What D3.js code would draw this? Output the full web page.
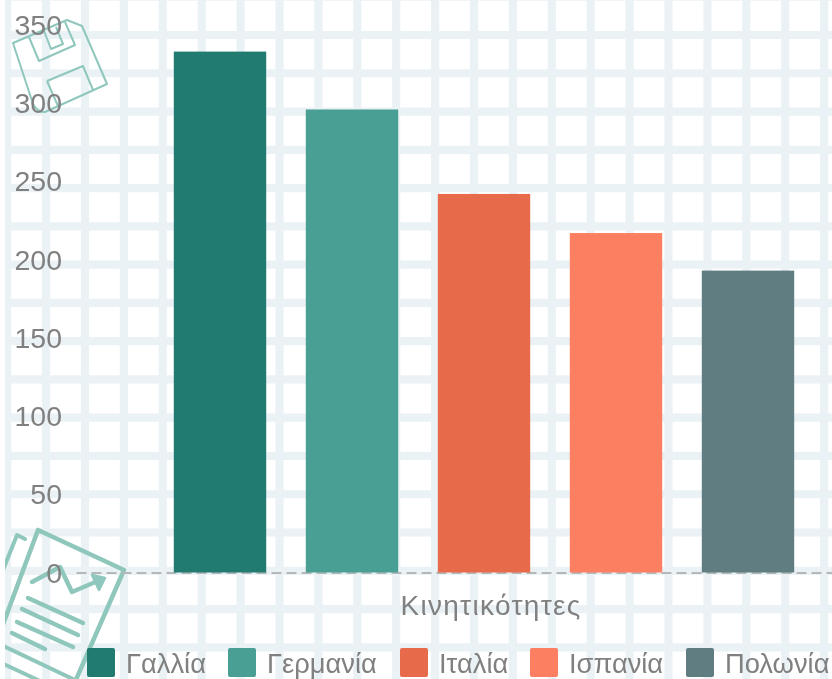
<!DOCTYPE html>
<html><head><meta charset="utf-8">
<script src="https://d3js.org/d3.v7.min.js"></script>
<style>html,body{margin:0;padding:0;background:#fff;overflow:hidden}svg{display:block;filter:blur(0.5px)}text{font-family:"Liberation Sans",Arial,sans-serif;fill:#808080}</style>
</head><body><svg id="c" width="832" height="679"></svg>
<script>
const categories=["Γαλλία","Γερμανία","Ιταλία","Ισπανία","Πολωνία"];
const values=[333,296,242,217,193];
const colors=["#227b70","#4a9f95","#e76b4b","#fc7f62","#607e82"];
const yTicks=[0,50,100,150,200,250,300,350];
const axisTitle="Κινητικότητες";
const svg=d3.select("#c");
const W=832,H=679;
svg.append("defs").append("clipPath").attr("id","bg").append("rect").attr("x",5).attr("y",0).attr("width",W-5).attr("height",H);
const bg=svg.append("g").attr("clip-path","url(#bg)");
const vLines=d3.range(0,22).map(i=>7.2+38.9*i);
const hLines=d3.range(-1,18).map(i=>35+38.27*i);
bg.selectAll("line.v").data(vLines).join("line").attr("x1",d=>d).attr("x2",d=>d).attr("y1",0).attr("y2",H).attr("stroke","#ebf2f6").attr("stroke-width",8.2);
bg.selectAll("line.h").data(hLines).join("line").attr("y1",d=>d).attr("y2",d=>d).attr("x1",0).attr("x2",W).attr("stroke","#ebf2f6").attr("stroke-width",8.2);
const ic="#8fc7bd";
const fl=bg.append("g").attr("fill","none").attr("stroke",ic).attr("stroke-width",2).attr("stroke-linejoin","round");
fl.append("path").attr("d","M13,43 L67,20 L82,26 L107,84 L45,112 Q38,113 33,104 Z");
fl.append("path").attr("d","M29,37 L39,61 L75,45 L65,22");
fl.append("path").attr("d","M44,31 L51,49 L63,44 L56,27");
fl.append("path").attr("d","M47,81 L83,66 L93,90 M47,81 L58,106");
const rp=bg.append("g").attr("fill","none").attr("stroke",ic).attr("stroke-linecap","round").attr("stroke-linejoin","round");
rp.append("path").attr("d","M38,530 L124,570 L75,682 M38,530 L-5,646").attr("stroke-width",4.5);
rp.append("path").attr("d","M25,539 L17,535 L-5,590").attr("stroke-width",4);
rp.append("path").attr("d","M-5,642 L75,680 M-5,660 L40,681").attr("stroke-width",4);
rp.append("path").attr("d","M32,582 L60,567 L72,592 L100,580").attr("stroke-width",4.5);
rp.append("path").attr("d","M92,575 L105,578 L99,590 Z").attr("fill",ic).attr("stroke-width",2.5);
[[28,598,83,623],[22,609,78,635],[17,622,73,647],[12,633,45,649]].forEach(l=>rp.append("line").attr("x1",l[0]).attr("y1",l[1]).attr("x2",l[2]).attr("y2",l[3]).attr("stroke-width",4.5));

const x=d3.scaleBand().domain(categories).range([154,814]).paddingInner(0.3).paddingOuter(0.15);
const y=d3.scaleLinear().domain([0,350]).range([572.5,25]);
svg.append("line").attr("x1",76.5).attr("x2",W).attr("y1",573).attr("y2",573).attr("stroke","#b5b8b9").attr("stroke-width",2.2).attr("stroke-dasharray","10 5");
svg.selectAll("rect.b").data(categories).join("rect").attr("class","b").attr("x",d=>x(d)).attr("width",x.bandwidth())
 .attr("y",(d,i)=>y(values[i])).attr("height",(d,i)=>y(0)-y(values[i])).attr("fill",(d,i)=>colors[i]);
svg.selectAll("text.t").data(yTicks).join("text").attr("class","t").attr("x",62).attr("y",d=>y(d)+10).attr("text-anchor","end").attr("font-size",28.5).text(d=>d);
svg.append("text").attr("x",491).attr("y",614.5).attr("text-anchor","middle").attr("font-size",28).attr("letter-spacing",1.3).text(axisTitle);
const legX=[87,228,400,530,686];
const leg=svg.selectAll("g.l").data(categories).join("g").attr("class","l").attr("transform",(d,i)=>`translate(${legX[i]},648)`);
leg.append("rect").attr("width",28).attr("height",29).attr("rx",2).attr("fill",(d,i)=>colors[i]);
leg.append("text").attr("x",39).attr("y",24.5).attr("font-size",27.3).text(d=>d);
</script></body></html>
